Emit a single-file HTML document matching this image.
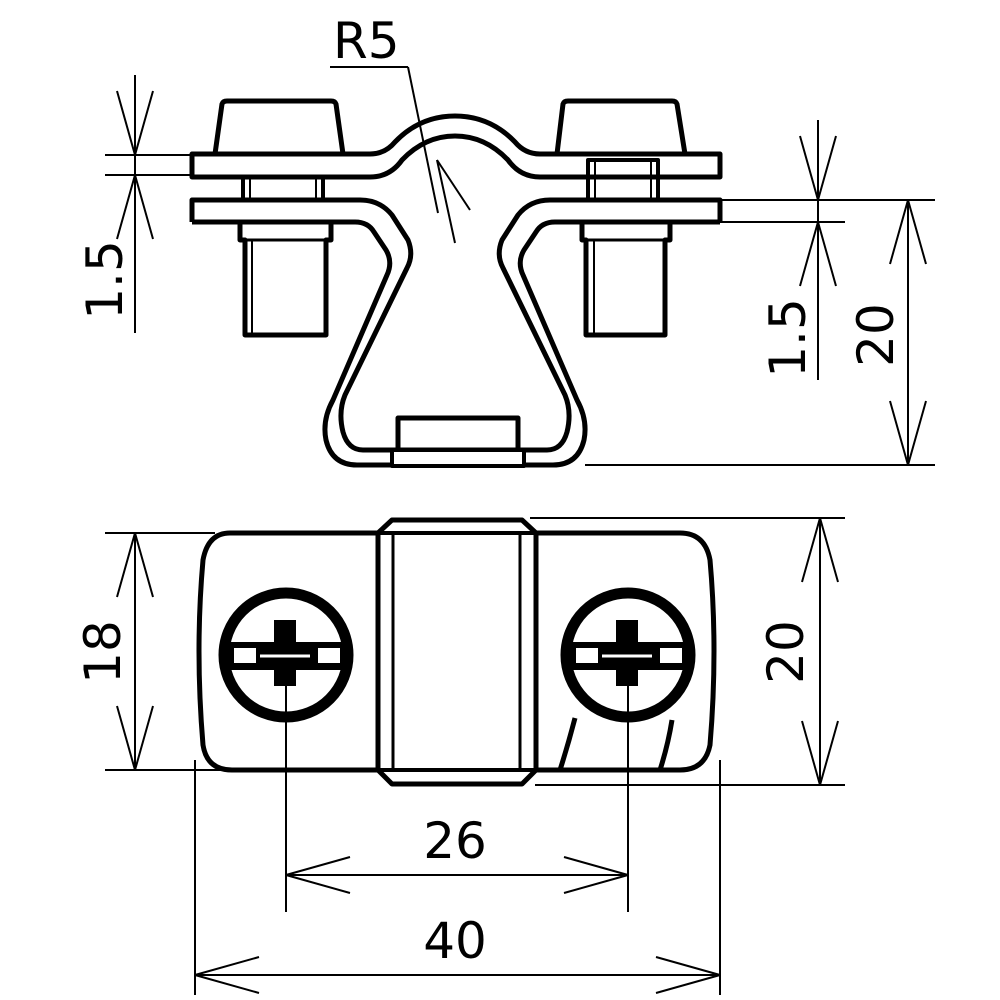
<!DOCTYPE html>
<html><head><meta charset="utf-8"><style>
html,body{margin:0;padding:0;background:#fff;}
svg{display:block}
text{font-family:"DejaVu Sans","Liberation Sans",sans-serif;font-size:50px;fill:#000;}
</style></head><body>
<svg width="1000" height="1000" viewBox="0 0 1000 1000" xmlns="http://www.w3.org/2000/svg">
<g fill="none" stroke="#000" stroke-linejoin="round">
<path d="M215 154 L222 104 Q223 101 227 101 L331 101 Q335 101 336 104 L343 154" stroke-width="5"/>
<path d="M557 154 L563 104 Q564 101 568 101 L672 101 Q676 101 677 104 L685 154" stroke-width="5"/>
<path d="M192 154 L370 154 Q385 154 395 142 Q420 116 455 116 Q490 116 515 142 Q525 154 540 154 L720 154 L720 177 L540 177 Q520 177 508 160 Q485 136 455 136 Q425 136 402 160 Q390 177 370 177 L192 177 Z" stroke-width="5"/>
<rect x="243" y="177" width="80" height="23" stroke-width="4"/>
<line x1="250" y1="177" x2="250" y2="200" stroke-width="2"/>
<line x1="316" y1="177" x2="316" y2="200" stroke-width="2"/>
<rect x="588" y="160" width="70" height="40" stroke-width="4"/>
<line x1="595" y1="160" x2="595" y2="200" stroke-width="2"/>
<line x1="651" y1="160" x2="651" y2="200" stroke-width="2"/>
<!-- plate top edge -> hole side -->
<path d="M192 222 L192 200 L360 200 Q380 200 392 215 L408 240 Q414 255 407 268 L345 395 Q338 412 343 432 Q348 450 363 450 L547 450 Q562 450 567 432 Q572 412 565 395 L503 268 Q496 255 502 240 L518 215 Q530 200 550 200 L720 200 L720 222" stroke-width="5"/>
<!-- plate bottom edge -> outer side -->
<path d="M192 222 L355 222 Q368 222 374 232 L386 250 Q393 262 387 275 L333 400 Q322 420 326 440 Q332 465 357 465 L553 465 Q578 465 584 440 Q588 420 577 400 L523 275 Q517 262 524 250 L536 232 Q542 222 555 222 L720 222" stroke-width="5"/>
<path d="M398 450 L398 418 L518 418 L518 450" stroke-width="5"/>
<rect x="392" y="450" width="132" height="16" fill="#fff" stroke-width="4"/>
<path d="M240 222 L240 240 L245 240 L245 335 L326 335 L326 240 L331 240 L331 222" stroke-width="5"/>
<line x1="252" y1="240" x2="252" y2="335" stroke-width="2"/>
<line x1="240" y1="240" x2="331" y2="240" stroke-width="3"/>
<path d="M582 222 L582 240 L586 240 L586 335 L665 335 L665 240 L670 240 L670 222" stroke-width="5"/>
<line x1="594" y1="240" x2="594" y2="335" stroke-width="2"/>
<line x1="582" y1="240" x2="670" y2="240" stroke-width="3"/>
<g stroke-width="2">
<line x1="330" y1="67" x2="408" y2="67"/>
<line x1="408" y1="67" x2="438" y2="213"/>
<line x1="437" y1="160" x2="455" y2="243"/>
<line x1="437" y1="160" x2="470" y2="210"/>
</g>
<g stroke-width="2">
<line x1="105" y1="155" x2="192" y2="155"/>
<line x1="105" y1="175" x2="192" y2="175"/>
<line x1="135" y1="75" x2="135" y2="333"/>
<polyline points="117,91 135,155 153,91"/>
<polyline points="117,239 135,175 153,239"/>
<line x1="720" y1="200" x2="935" y2="200"/>
<line x1="720" y1="222" x2="845" y2="222"/>
<line x1="585" y1="465" x2="935" y2="465"/>
<line x1="818" y1="120" x2="818" y2="380"/>
<polyline points="800,136 818,200 836,136"/>
<polyline points="800,286 818,222 836,286"/>
<line x1="908" y1="200" x2="908" y2="465"/>
<polyline points="890,264 908,200 926,264"/>
<polyline points="890,401 908,465 926,401"/>
</g>
<path d="M230 533 L680 533 Q705 533 710 560 Q718 650 710 745 Q705 770 680 770 L232 770 Q207 770 203 745 Q195 650 203 560 Q208 533 230 533 Z" stroke-width="5"/>
<path d="M378 533 L392 520 L522 520 L536 533 L536 770 L522 784 L392 784 L378 770 Z" fill="#fff" stroke-width="5"/>
<line x1="393" y1="533" x2="393" y2="770" stroke-width="3"/>
<line x1="520" y1="533" x2="520" y2="770" stroke-width="3"/>
<line x1="378" y1="533" x2="536" y2="533" stroke-width="4"/>
<line x1="378" y1="770" x2="536" y2="770" stroke-width="4"/>
<path d="M575 718 Q568 745 560 770" stroke-width="5"/>
<path d="M672 720 Q668 745 660 770" stroke-width="5"/>
<g>
<circle cx="286" cy="655" r="62" stroke-width="11" fill="#fff"/>
<rect x="224" y="642" width="124" height="28" fill="#000" stroke="none"/>
<rect x="234" y="648" width="22" height="15" fill="#fff" stroke="none"/>
<rect x="318" y="648" width="22" height="15" fill="#fff" stroke="none"/>
<rect x="274" y="620" width="22" height="66" fill="#000" stroke="none"/>
<line x1="260" y1="656" x2="310" y2="656" stroke="#fff" stroke-width="3"/>
<circle cx="628" cy="655" r="62" stroke-width="11" fill="#fff"/>
<rect x="566" y="642" width="124" height="28" fill="#000" stroke="none"/>
<rect x="576" y="648" width="22" height="15" fill="#fff" stroke="none"/>
<rect x="660" y="648" width="22" height="15" fill="#fff" stroke="none"/>
<rect x="616" y="620" width="22" height="66" fill="#000" stroke="none"/>
<line x1="602" y1="656" x2="652" y2="656" stroke="#fff" stroke-width="3"/>
</g>
<g stroke-width="2">
<line x1="105" y1="533" x2="215" y2="533"/>
<line x1="105" y1="770" x2="380" y2="770"/>
<line x1="135" y1="533" x2="135" y2="770"/>
<polyline points="117,597 135,533 153,597"/>
<polyline points="117,706 135,770 153,706"/>
<line x1="530" y1="518" x2="845" y2="518"/>
<line x1="535" y1="785" x2="845" y2="785"/>
<line x1="820" y1="518" x2="820" y2="785"/>
<polyline points="802,582 820,518 838,582"/>
<polyline points="802,721 820,785 838,721"/>
<line x1="286" y1="670" x2="286" y2="912"/>
<line x1="628" y1="670" x2="628" y2="912"/>
<line x1="286" y1="875" x2="628" y2="875"/>
<polyline points="350,857 286,875 350,893"/>
<polyline points="564,857 628,875 564,893"/>
<line x1="195" y1="760" x2="195" y2="995"/>
<line x1="720" y1="760" x2="720" y2="995"/>
<line x1="195" y1="975" x2="720" y2="975"/>
<polyline points="259,957 195,975 259,993"/>
<polyline points="656,957 720,975 656,993"/>
</g>
</g>
<text x="333" y="58">R5</text>
<text transform="translate(122,280) rotate(-90)" text-anchor="middle">1.5</text>
<text transform="translate(805,338) rotate(-90)" text-anchor="middle">1.5</text>
<text transform="translate(893,335) rotate(-90)" text-anchor="middle">20</text>
<text transform="translate(120,652) rotate(-90)" text-anchor="middle">18</text>
<text transform="translate(803,652) rotate(-90)" text-anchor="middle">20</text>
<text x="455" y="858" text-anchor="middle">26</text>
<text x="455" y="958" text-anchor="middle">40</text>
</svg>
</body></html>
